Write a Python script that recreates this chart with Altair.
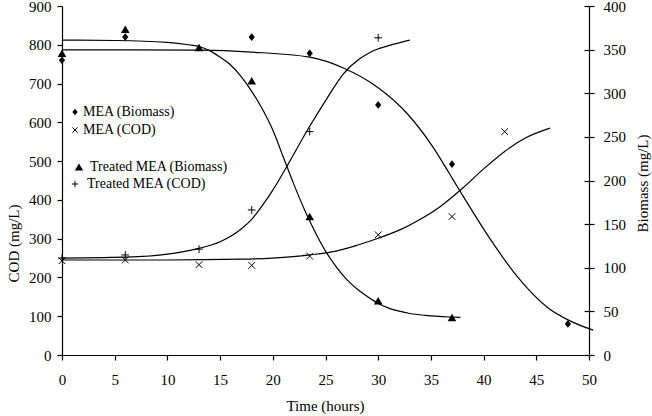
import altair as alt
import pandas as pd

FONT = "Liberation Serif"

# Measured points (plotted on the COD scale, 0-900)
mea_biomass_t = [0, 6, 18, 23.5, 30, 37, 48]
mea_biomass_v = [760, 820, 820, 778, 645, 492, 80]

mea_cod_t = [0, 6, 13, 18, 23.5, 30, 37, 42]
mea_cod_v = [243, 245, 233, 231, 255, 310, 357, 576]

treated_biomass_t = [0, 6, 13, 18, 23.5, 30, 37]
treated_biomass_v = [778, 840, 793, 707, 357, 140, 97]

treated_cod_t = [0, 6, 13, 18, 23.5, 30]
treated_cod_v = [250, 258, 273, 374, 576, 818]

# Fitted curves
fit_treated_biomass_t = [0, 5, 10, 12, 13.1, 14, 15, 16, 17, 18, 19, 20, 21, 22, 23,
                         24, 25, 26, 27, 28, 29, 30, 31, 32, 33, 34.5, 36.8, 37.8]
fit_treated_biomass_v = [812, 811, 806, 800, 795, 785, 768, 748, 718, 680, 635, 580,
                         510, 440, 375, 318, 268, 228, 195, 170, 150, 133, 121, 113,
                         107, 102, 98, 97]

fit_mea_biomass_t = [0, 6, 13, 18, 23.5, 26.7, 29.9, 32.7, 35.2, 36.8, 38.0, 40.6,
                     43.2, 46.0, 48.2, 50.4]
fit_mea_biomass_v = [787, 787, 786, 781, 768, 740, 691, 624, 536, 466, 412, 300,
                     202, 124, 88, 64]

fit_treated_cod_t = [0, 6.7, 10, 13, 15, 17, 18, 19, 20, 21.3, 23.5, 25.1, 26.7,
                     28.3, 29.5, 31.4, 33.0]
fit_treated_cod_v = [250, 253, 260, 275, 292, 325, 350, 385, 425, 485, 590, 660, 725,
                     765, 784, 801, 812]

fit_mea_cod_t = [0, 10, 17, 20, 23.5, 26, 28, 30, 32, 34, 36, 38, 40, 42, 44, 46.3]
fit_mea_cod_v = [245, 245, 247, 250, 258, 268, 283, 301, 322, 350, 385, 430, 480,
                 525, 560, 585]

biomass_range = [0, 400]

x_ticks = list(range(0, 51, 5))
cod_ticks = list(range(0, 901, 100))
biomass_ticks = list(range(0, 401, 50))

DIAMOND = "M0,-1L0.8,0L0,1L-0.8,0Z"
CROSS_X = "M-1,-1L1,1M-1,1L1,-1"
PLUS = "M-1,0L1,0M0,-1L0,1"

x_scale = alt.Scale(domain=[0, 50], nice=False, zero=False)
cod_scale = alt.Scale(domain=[0, 900], nice=False)

x_axis = alt.Axis(
    values=x_ticks, title="Time (hours)", grid=False, tickSize=5, labelPadding=12,
    titleX=263, titleY=50, titleAnchor="middle", titleBaseline="middle",
    titleAlign="center",
)
cod_axis = alt.Axis(
    values=cod_ticks, title="COD (mg/L)", grid=False, tickSize=5, labelPadding=6,
    titleX=-49, titleY=237, titleAngle=-90, titleAlign="center",
    titleBaseline="middle",
)


def frame(t, v):
    return pd.DataFrame({"t": t, "v": v})


def points(t, v, shape, size, filled):
    kw = dict(shape=shape, size=size, color="black", opacity=1)
    if filled:
        kw.update(filled=True)
    else:
        kw.update(filled=False, strokeWidth=1)
    return alt.Chart(frame(t, v)).mark_point(**kw).encode(
        x=alt.X("t:Q", scale=x_scale, axis=x_axis),
        y=alt.Y("v:Q", scale=cod_scale, axis=cod_axis),
    )


def curve(t, v):
    return alt.Chart(frame(t, v)).mark_line(
        color="black", strokeWidth=1.2, interpolate="monotone"
    ).encode(
        x=alt.X("t:Q", scale=x_scale, axis=x_axis),
        y=alt.Y("v:Q", scale=cod_scale, axis=cod_axis),
    )


def legend_item(label, shape, size, filled, sx, tx, y):
    one = pd.DataFrame({"label": [label]})
    kw = dict(shape=shape, size=size, color="black", opacity=1)
    if filled:
        kw.update(filled=True)
    else:
        kw.update(filled=False, strokeWidth=1)
    sym = alt.Chart(one).mark_point(**kw).encode(x=alt.value(sx), y=alt.value(y))
    txt = alt.Chart(one).mark_text(
        font=FONT, fontSize=14, align="left", baseline="middle", color="black"
    ).encode(x=alt.value(tx), y=alt.value(y), text="label:N")
    return sym + txt


left = alt.layer(
    curve(fit_treated_biomass_t, fit_treated_biomass_v),
    curve(fit_mea_biomass_t, fit_mea_biomass_v),
    curve(fit_treated_cod_t, fit_treated_cod_v),
    curve(fit_mea_cod_t, fit_mea_cod_v),
    points(mea_biomass_t, mea_biomass_v, DIAMOND, 60, True),
    points(mea_cod_t, mea_cod_v, CROSS_X, 45, False),
    points(treated_biomass_t, treated_biomass_v, "triangle-up", 75, True),
    points(treated_cod_t, treated_cod_v, PLUS, 60, False),
    legend_item("MEA (Biomass)", DIAMOND, 45, True, 13, 21, 106),
    legend_item("MEA (COD)", CROSS_X, 28, False, 13, 21, 124),
    legend_item("Treated MEA (Biomass)", "triangle-up", 70, True, 17, 28, 161),
    legend_item("Treated MEA (COD)", PLUS, 40, False, 13, 25, 178),
)

biomass_df = pd.DataFrame({"t": [0, 0], "b": biomass_range})
biomass_scale = alt.Scale(domain=[0, 400], nice=False)

right = alt.Chart(biomass_df).mark_point(opacity=0).encode(
    x=alt.X("t:Q", scale=x_scale, axis=x_axis),
    y=alt.Y("b:Q", scale=biomass_scale, axis=alt.Axis(
        orient="right", values=biomass_ticks, title="Biomass (mg/L)", grid=False,
        tickSize=5, labelPadding=9, titleX=53, titleY=177, titleAngle=-90,
        titleAlign="center", titleBaseline="middle",
    )),
)

# inner half of the crossing ticks on the right axis
right_inner = alt.Chart(biomass_df).mark_point(opacity=0).encode(
    x=alt.X("t:Q", scale=x_scale, axis=x_axis),
    y=alt.Y("b:Q", scale=biomass_scale, axis=alt.Axis(
        orient="right", values=biomass_ticks, title=None, grid=False, tickSize=5,
        offset=-5, domain=False, labels=False,
    )),
)

chart = alt.layer(left, right, right_inner).resolve_scale(
    y="independent"
).properties(
    width=527, height=349,
    autosize=alt.AutoSizeParams(type="none"),
    padding={"left": 62, "top": 6, "right": 63, "bottom": 61},
    background="white",
).configure_view(stroke=None).configure_axis(
    labelFont=FONT, titleFont=FONT, labelFontSize=15, titleFontSize=15,
    labelColor="black", titleColor="black", titleFontWeight="normal",
    domainColor="black", tickColor="black", domainWidth=1.2, tickWidth=1.2,
    labelFlush=False, labelOverlap=False,
)

chart.save("out.html", embed_options={"renderer": "svg", "actions": False})
